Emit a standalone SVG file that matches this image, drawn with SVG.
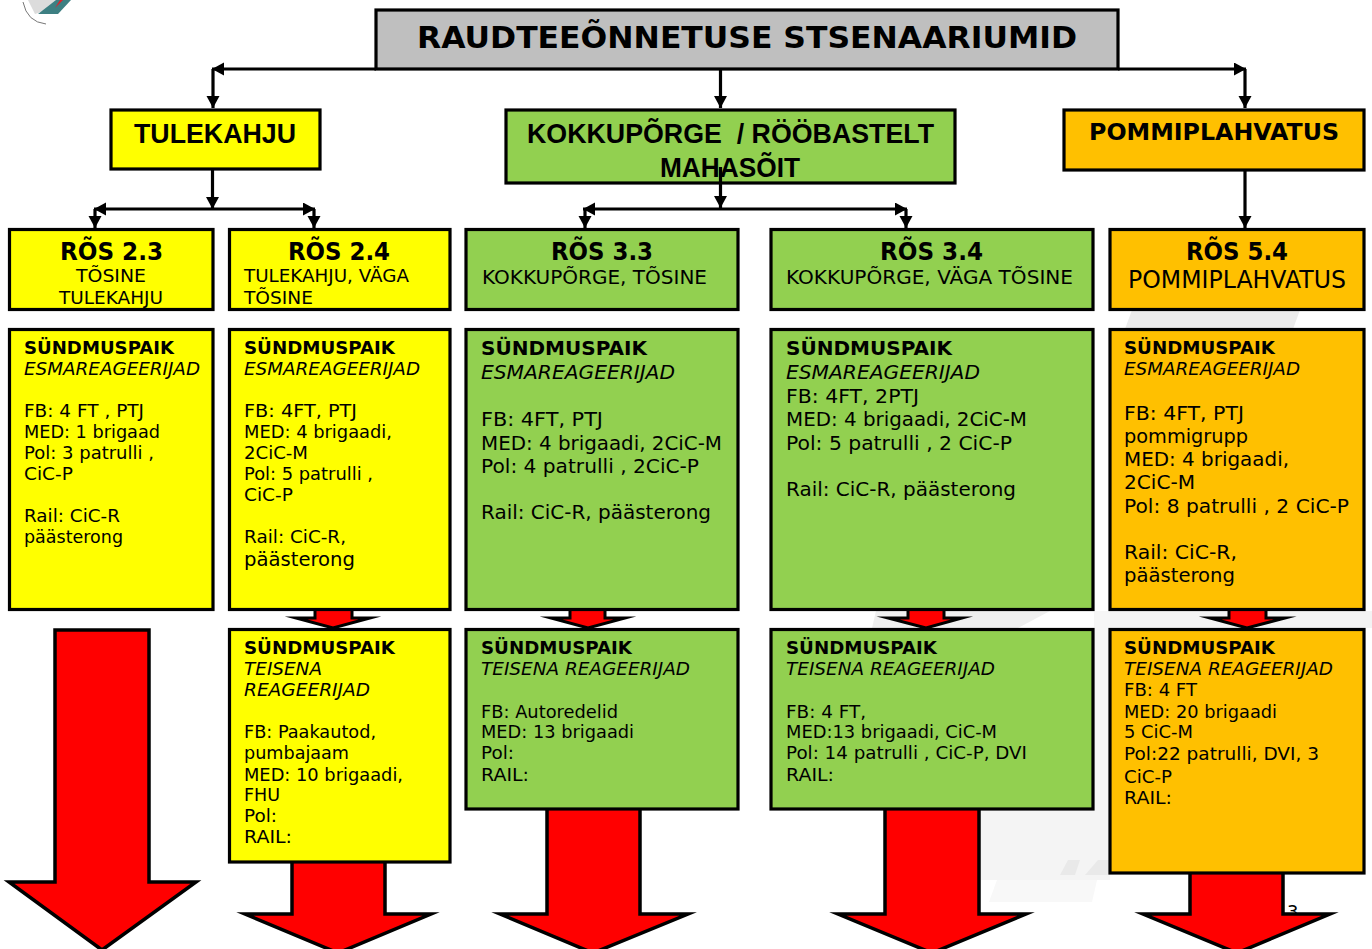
<svg xmlns="http://www.w3.org/2000/svg" width="1372" height="949" viewBox="0 0 1372 949">
<style>
text{font-family:"DejaVu Sans","Liberation Sans",sans-serif;font-size:18px;fill:#000}
.b{font-weight:700}.i{font-style:italic}
.h{font-weight:700;font-size:25px}
.s{font-size:20px}
.a{font-family:"Liberation Sans",Arial,sans-serif;font-weight:700;font-size:28px}
.box{stroke:#000;stroke-width:3.2}
.y{fill:#ff0}.g{fill:#92d050}.o{fill:#ffc000}
.big{fill:#f00;stroke:#000;stroke-width:3.5;stroke-miterlimit:12}
.small{fill:#f00;stroke:#000;stroke-width:3;stroke-miterlimit:14}
.c{fill:none;stroke:#000;stroke-width:3.2}
</style>
<defs>
<marker id="ah" markerUnits="userSpaceOnUse" markerWidth="14" markerHeight="14" refX="12" refY="6.5" orient="auto"><path d="M0 0L12 6.5L0 13Z" fill="#000"/></marker>
</defs>
<g id="background">
<path d="M978 808H1110V880H978Z" fill="#f4f4f4"/>
<path d="M989 902L997 880H1097L1092 902Z" fill="#f8f8f8"/>
<path d="M1060 875L1068 860H1080L1075 875Z" fill="#e9e9e9"/>
<path d="M1085 875L1098 860H1110V875Z" fill="#e9e9e9"/>
<path d="M872 628L876 611H1050L1018 628Z" fill="#efefef"/>
<path d="M1094 611H1372V628H1094Z" fill="#f3f3f3"/>
<path d="M1094 611H1110V810H1094Z" fill="#f6f6f6"/>
<path d="M1125 329L1132 310H1300L1293 329Z" fill="#ececec"/>
</g>
<g id="logo">
<path d="M28 0L35 14L66 4L69 0Z" fill="#dcdcdc"/>
<path d="M38 14L58 14L71 0L56 0Z" fill="#3d7f82"/>
<path d="M55 8L60 0L63 0Z" fill="#e0202a"/>
<path d="M23 2Q27 22 46 24" fill="none" stroke="#777" stroke-width="1"/>
</g>
<text x="1287" y="918">3</text>
<g id="arrow-1"><path class="big" d="M55 630H149V882H196L102 950L9 882H55Z"/></g>
<g id="arrow-2"><path class="small" d="M315 608H352V618H370L333 628L296 618H315Z"/><path class="big" d="M292 860H385V914H431L338 953L245 914H292Z"/></g>
<g id="arrow-3"><path class="small" d="M570 608H605V618H625L588 628L551 618H570Z"/><path class="big" d="M547 807H640V914H688L593 953L500 914H547Z"/></g>
<g id="arrow-4"><path class="small" d="M908 608H944V618H962L926 628L888 618H908Z"/><path class="big" d="M885 807H979V914H1026L932 953L838 914H885Z"/></g>
<g id="arrow-5"><path class="small" d="M1229 608H1266V618H1285L1247 628L1210 618H1229Z"/><path class="big" d="M1190 871H1283V914H1330L1237 953L1143 914H1190Z"/></g>
<g id="title"><rect class="box" x="376" y="10" width="742" height="59" fill="#bfbfbf"/><text class="b" x="417" y="48" textLength="660" lengthAdjust="spacingAndGlyphs" style="font-size:31px">RAUDTEEÕNNETUSE STSENAARIUMID</text></g>
<g id="tulekahju"><rect class="box y" x="111" y="110" width="209" height="59"/><text class="a" x="134" y="143" textLength="162" lengthAdjust="spacingAndGlyphs">TULEKAHJU</text></g>
<g id="kokkuporge"><rect class="box g" x="506" y="110" width="449" height="73"/><text class="a" xml:space="preserve" x="527" y="143" textLength="407" lengthAdjust="spacingAndGlyphs">KOKKUPÕRGE  / RÖÖBASTELT</text><text class="a" x="660" y="177" textLength="140" lengthAdjust="spacingAndGlyphs">MAHASÕIT</text></g>
<g id="pommi"><rect class="box o" x="1064" y="110" width="300" height="60"/><text class="b" style="font-size:23px" x="1089" y="140" textLength="250" lengthAdjust="spacingAndGlyphs">POMMIPLAHVATUS</text></g>
<g id="connectors">
<path class="c" d="M376 69H212" marker-end="url(#ah)"/><path class="c" d="M213 69V108" marker-end="url(#ah)"/>
<path class="c" d="M1118 69H1246" marker-end="url(#ah)"/><path class="c" d="M1245 69V108" marker-end="url(#ah)"/>
<path class="c" d="M720.5 69V108" marker-end="url(#ah)"/>
<path class="c" d="M212.5 170V209" marker-end="url(#ah)"/>
<path class="c" d="M212 209H94" marker-end="url(#ah)"/><path class="c" d="M95 209V228" marker-end="url(#ah)"/>
<path class="c" d="M212 209H315" marker-end="url(#ah)"/><path class="c" d="M314 209V228" marker-end="url(#ah)"/>
<path class="c" d="M720.5 167V208" marker-end="url(#ah)"/>
<path class="c" d="M720 209H583" marker-end="url(#ah)"/><path class="c" d="M585 209V228" marker-end="url(#ah)"/>
<path class="c" d="M720 209H907" marker-end="url(#ah)"/><path class="c" d="M906 209V228" marker-end="url(#ah)"/>
<path class="c" d="M1245 170V228" marker-end="url(#ah)"/>
</g>
<g id="ros23"><rect class="box y" x="9.5" y="229.5" width="203.5" height="80"/><text class="h" x="60" y="260" textLength="103" lengthAdjust="spacingAndGlyphs">RÕS 2.3</text><text x="76" y="282" textLength="70" lengthAdjust="spacingAndGlyphs">TÕSINE</text><text x="59" y="304" textLength="104" lengthAdjust="spacingAndGlyphs">TULEKAHJU</text></g>
<g id="ros24"><rect class="box y" x="229.5" y="229.5" width="220.5" height="80"/><text class="h" x="288" y="260" textLength="102" lengthAdjust="spacingAndGlyphs">RÕS 2.4</text><text x="244" y="282" textLength="165" lengthAdjust="spacingAndGlyphs">TULEKAHJU, VÄGA</text><text x="244" y="304" textLength="69" lengthAdjust="spacingAndGlyphs">TÕSINE</text></g>
<g id="ros33"><rect class="box g" x="466" y="229.5" width="272" height="80"/><text class="h" x="551" y="260" textLength="102" lengthAdjust="spacingAndGlyphs">RÕS 3.3</text><text class="s" x="482" y="284" textLength="225" lengthAdjust="spacingAndGlyphs">KOKKUPÕRGE, TÕSINE</text></g>
<g id="ros34"><rect class="box g" x="771" y="229.5" width="322" height="80"/><text class="h" x="880" y="260" textLength="103" lengthAdjust="spacingAndGlyphs">RÕS 3.4</text><text class="s" x="786" y="284" textLength="287" lengthAdjust="spacingAndGlyphs">KOKKUPÕRGE, VÄGA TÕSINE</text></g>
<g id="ros54"><rect class="box o" x="1110" y="229.5" width="254" height="80"/><text class="h" x="1186" y="260" textLength="102" lengthAdjust="spacingAndGlyphs">RÕS 5.4</text><text x="1128" y="288" textLength="218" lengthAdjust="spacingAndGlyphs" style="font-size:24px">POMMIPLAHVATUS</text></g>
<g id="first23"><rect class="box y" x="9.5" y="329.5" width="203.5" height="280"/>
<text class="b" x="24" y="354" textLength="150" lengthAdjust="spacingAndGlyphs">SÜNDMUSPAIK</text><text class="i" x="24" y="375" textLength="176" lengthAdjust="spacingAndGlyphs">ESMAREAGEERIJAD</text>
<text x="24" y="417" textLength="120" lengthAdjust="spacingAndGlyphs">FB: 4 FT , PTJ</text><text x="24" y="438" textLength="136" lengthAdjust="spacingAndGlyphs">MED: 1 brigaad</text><text x="24" y="459" textLength="130" lengthAdjust="spacingAndGlyphs">Pol: 3 patrulli ,</text><text x="24" y="480" textLength="49" lengthAdjust="spacingAndGlyphs">CiC-P</text><text x="24" y="522" textLength="96" lengthAdjust="spacingAndGlyphs">Rail: CiC-R</text><text x="24" y="543" textLength="99" lengthAdjust="spacingAndGlyphs">päästerong</text></g>
<g id="first24"><rect class="box y" x="229.5" y="329.5" width="220.5" height="280"/>
<text class="b" x="244" y="354" textLength="151" lengthAdjust="spacingAndGlyphs">SÜNDMUSPAIK</text><text class="i" x="244" y="375" textLength="176" lengthAdjust="spacingAndGlyphs">ESMAREAGEERIJAD</text>
<text x="244" y="417" textLength="113" lengthAdjust="spacingAndGlyphs">FB: 4FT, PTJ</text><text x="244" y="438" textLength="148" lengthAdjust="spacingAndGlyphs">MED: 4 brigaadi,</text><text x="244" y="459" textLength="64" lengthAdjust="spacingAndGlyphs">2CiC-M</text><text x="244" y="480" textLength="129" lengthAdjust="spacingAndGlyphs">Pol: 5 patrulli ,</text><text x="244" y="501" textLength="49" lengthAdjust="spacingAndGlyphs">CiC-P</text><text x="244" y="543" textLength="102" lengthAdjust="spacingAndGlyphs">Rail: CiC-R,</text><text class="s" x="244" y="566" textLength="111" lengthAdjust="spacingAndGlyphs">päästerong</text></g>
<g id="first33"><rect class="box g" x="466" y="329.5" width="272" height="280"/>
<text class="b s" x="481" y="355" textLength="166" lengthAdjust="spacingAndGlyphs">SÜNDMUSPAIK</text><text class="i s" x="481" y="379" textLength="194" lengthAdjust="spacingAndGlyphs">ESMAREAGEERIJAD</text>
<text class="s" x="481" y="426" textLength="122" lengthAdjust="spacingAndGlyphs">FB: 4FT, PTJ</text><text class="s" x="481" y="450" textLength="241" lengthAdjust="spacingAndGlyphs">MED: 4 brigaadi, 2CiC-M</text><text class="s" x="481" y="473" textLength="218" lengthAdjust="spacingAndGlyphs">Pol: 4 patrulli , 2CiC-P</text><text class="s" x="481" y="519" textLength="230" lengthAdjust="spacingAndGlyphs">Rail: CiC-R, päästerong</text></g>
<g id="first34"><rect class="box g" x="771" y="329.5" width="322" height="280"/>
<text class="b s" x="786" y="355" textLength="166" lengthAdjust="spacingAndGlyphs">SÜNDMUSPAIK</text><text class="i s" x="786" y="379" textLength="194" lengthAdjust="spacingAndGlyphs">ESMAREAGEERIJAD</text>
<text class="s" x="786" y="403" textLength="133" lengthAdjust="spacingAndGlyphs">FB: 4FT, 2PTJ</text><text class="s" x="786" y="426" textLength="241" lengthAdjust="spacingAndGlyphs">MED: 4 brigaadi, 2CiC-M</text><text class="s" x="786" y="450" textLength="226" lengthAdjust="spacingAndGlyphs">Pol: 5 patrulli , 2 CiC-P</text><text class="s" x="786" y="496" textLength="230" lengthAdjust="spacingAndGlyphs">Rail: CiC-R, päästerong</text></g>
<g id="first54"><rect class="box o" x="1110" y="329.5" width="254" height="280"/>
<text class="b" x="1124" y="354" textLength="151" lengthAdjust="spacingAndGlyphs">SÜNDMUSPAIK</text><text class="i" x="1124" y="375" textLength="176" lengthAdjust="spacingAndGlyphs">ESMAREAGEERIJAD</text>
<text class="s" x="1124" y="420" textLength="120" lengthAdjust="spacingAndGlyphs">FB: 4FT, PTJ</text><text class="s" x="1124" y="443" textLength="124" lengthAdjust="spacingAndGlyphs">pommigrupp</text><text class="s" x="1124" y="466" textLength="165" lengthAdjust="spacingAndGlyphs">MED: 4 brigaadi,</text><text class="s" x="1124" y="489" textLength="71" lengthAdjust="spacingAndGlyphs">2CiC-M</text><text class="s" x="1124" y="513" textLength="225" lengthAdjust="spacingAndGlyphs">Pol: 8 patrulli , 2 CiC-P</text><text class="s" x="1124" y="559" textLength="113" lengthAdjust="spacingAndGlyphs">Rail: CiC-R,</text><text class="s" x="1124" y="582" textLength="111" lengthAdjust="spacingAndGlyphs">päästerong</text></g>
<g id="second24"><rect class="box y" x="229.5" y="629.5" width="220.5" height="232.5"/>
<text class="b" x="244" y="654" textLength="151" lengthAdjust="spacingAndGlyphs">SÜNDMUSPAIK</text><text class="i" x="244" y="675" textLength="78" lengthAdjust="spacingAndGlyphs">TEISENA</text><text class="i" x="244" y="696" textLength="126" lengthAdjust="spacingAndGlyphs">REAGEERIJAD</text>
<text x="244" y="738" textLength="132" lengthAdjust="spacingAndGlyphs">FB: Paakautod,</text><text x="244" y="759" textLength="105" lengthAdjust="spacingAndGlyphs">pumbajaam</text><text x="244" y="781" textLength="159" lengthAdjust="spacingAndGlyphs">MED: 10 brigaadi,</text><text x="244" y="801" textLength="36" lengthAdjust="spacingAndGlyphs">FHU</text><text x="244" y="822" textLength="33" lengthAdjust="spacingAndGlyphs">Pol:</text><text x="244" y="843" textLength="48" lengthAdjust="spacingAndGlyphs">RAIL:</text></g>
<g id="second33"><rect class="box g" x="466" y="629.5" width="272" height="179.5"/>
<text class="b" x="481" y="654" textLength="151" lengthAdjust="spacingAndGlyphs">SÜNDMUSPAIK</text><text class="i" x="481" y="675" textLength="209" lengthAdjust="spacingAndGlyphs">TEISENA REAGEERIJAD</text>
<text x="481" y="718" textLength="137" lengthAdjust="spacingAndGlyphs">FB: Autoredelid</text><text x="481" y="738" textLength="153" lengthAdjust="spacingAndGlyphs">MED: 13 brigaadi</text><text x="481" y="759" textLength="33" lengthAdjust="spacingAndGlyphs">Pol:</text><text x="481" y="781" textLength="48" lengthAdjust="spacingAndGlyphs">RAIL:</text></g>
<g id="second34"><rect class="box g" x="771" y="629.5" width="322" height="179.5"/>
<text class="b" x="786" y="654" textLength="151" lengthAdjust="spacingAndGlyphs">SÜNDMUSPAIK</text><text class="i" x="786" y="675" textLength="209" lengthAdjust="spacingAndGlyphs">TEISENA REAGEERIJAD</text>
<text x="786" y="718" textLength="80" lengthAdjust="spacingAndGlyphs">FB: 4 FT,</text><text x="786" y="738" textLength="211" lengthAdjust="spacingAndGlyphs">MED:13 brigaadi, CiC-M</text><text x="786" y="759" textLength="241" lengthAdjust="spacingAndGlyphs">Pol: 14 patrulli , CiC-P, DVI</text><text x="786" y="781" textLength="48" lengthAdjust="spacingAndGlyphs">RAIL:</text></g>
<g id="second54"><rect class="box o" x="1110" y="629.5" width="254" height="243.5"/>
<text class="b" x="1124" y="654" textLength="151" lengthAdjust="spacingAndGlyphs">SÜNDMUSPAIK</text><text class="i" x="1124" y="675" textLength="209" lengthAdjust="spacingAndGlyphs">TEISENA REAGEERIJAD</text>
<text x="1124" y="696" textLength="73" lengthAdjust="spacingAndGlyphs">FB: 4 FT</text><text x="1124" y="718" textLength="153" lengthAdjust="spacingAndGlyphs">MED: 20 brigaadi</text><text x="1124" y="738" textLength="69" lengthAdjust="spacingAndGlyphs">5 CiC-M</text><text x="1124" y="760" textLength="195" lengthAdjust="spacingAndGlyphs">Pol:22 patrulli, DVI, 3</text><text x="1124" y="783" textLength="48" lengthAdjust="spacingAndGlyphs">CiC-P</text><text x="1124" y="804" textLength="48" lengthAdjust="spacingAndGlyphs">RAIL:</text></g>
</svg>
